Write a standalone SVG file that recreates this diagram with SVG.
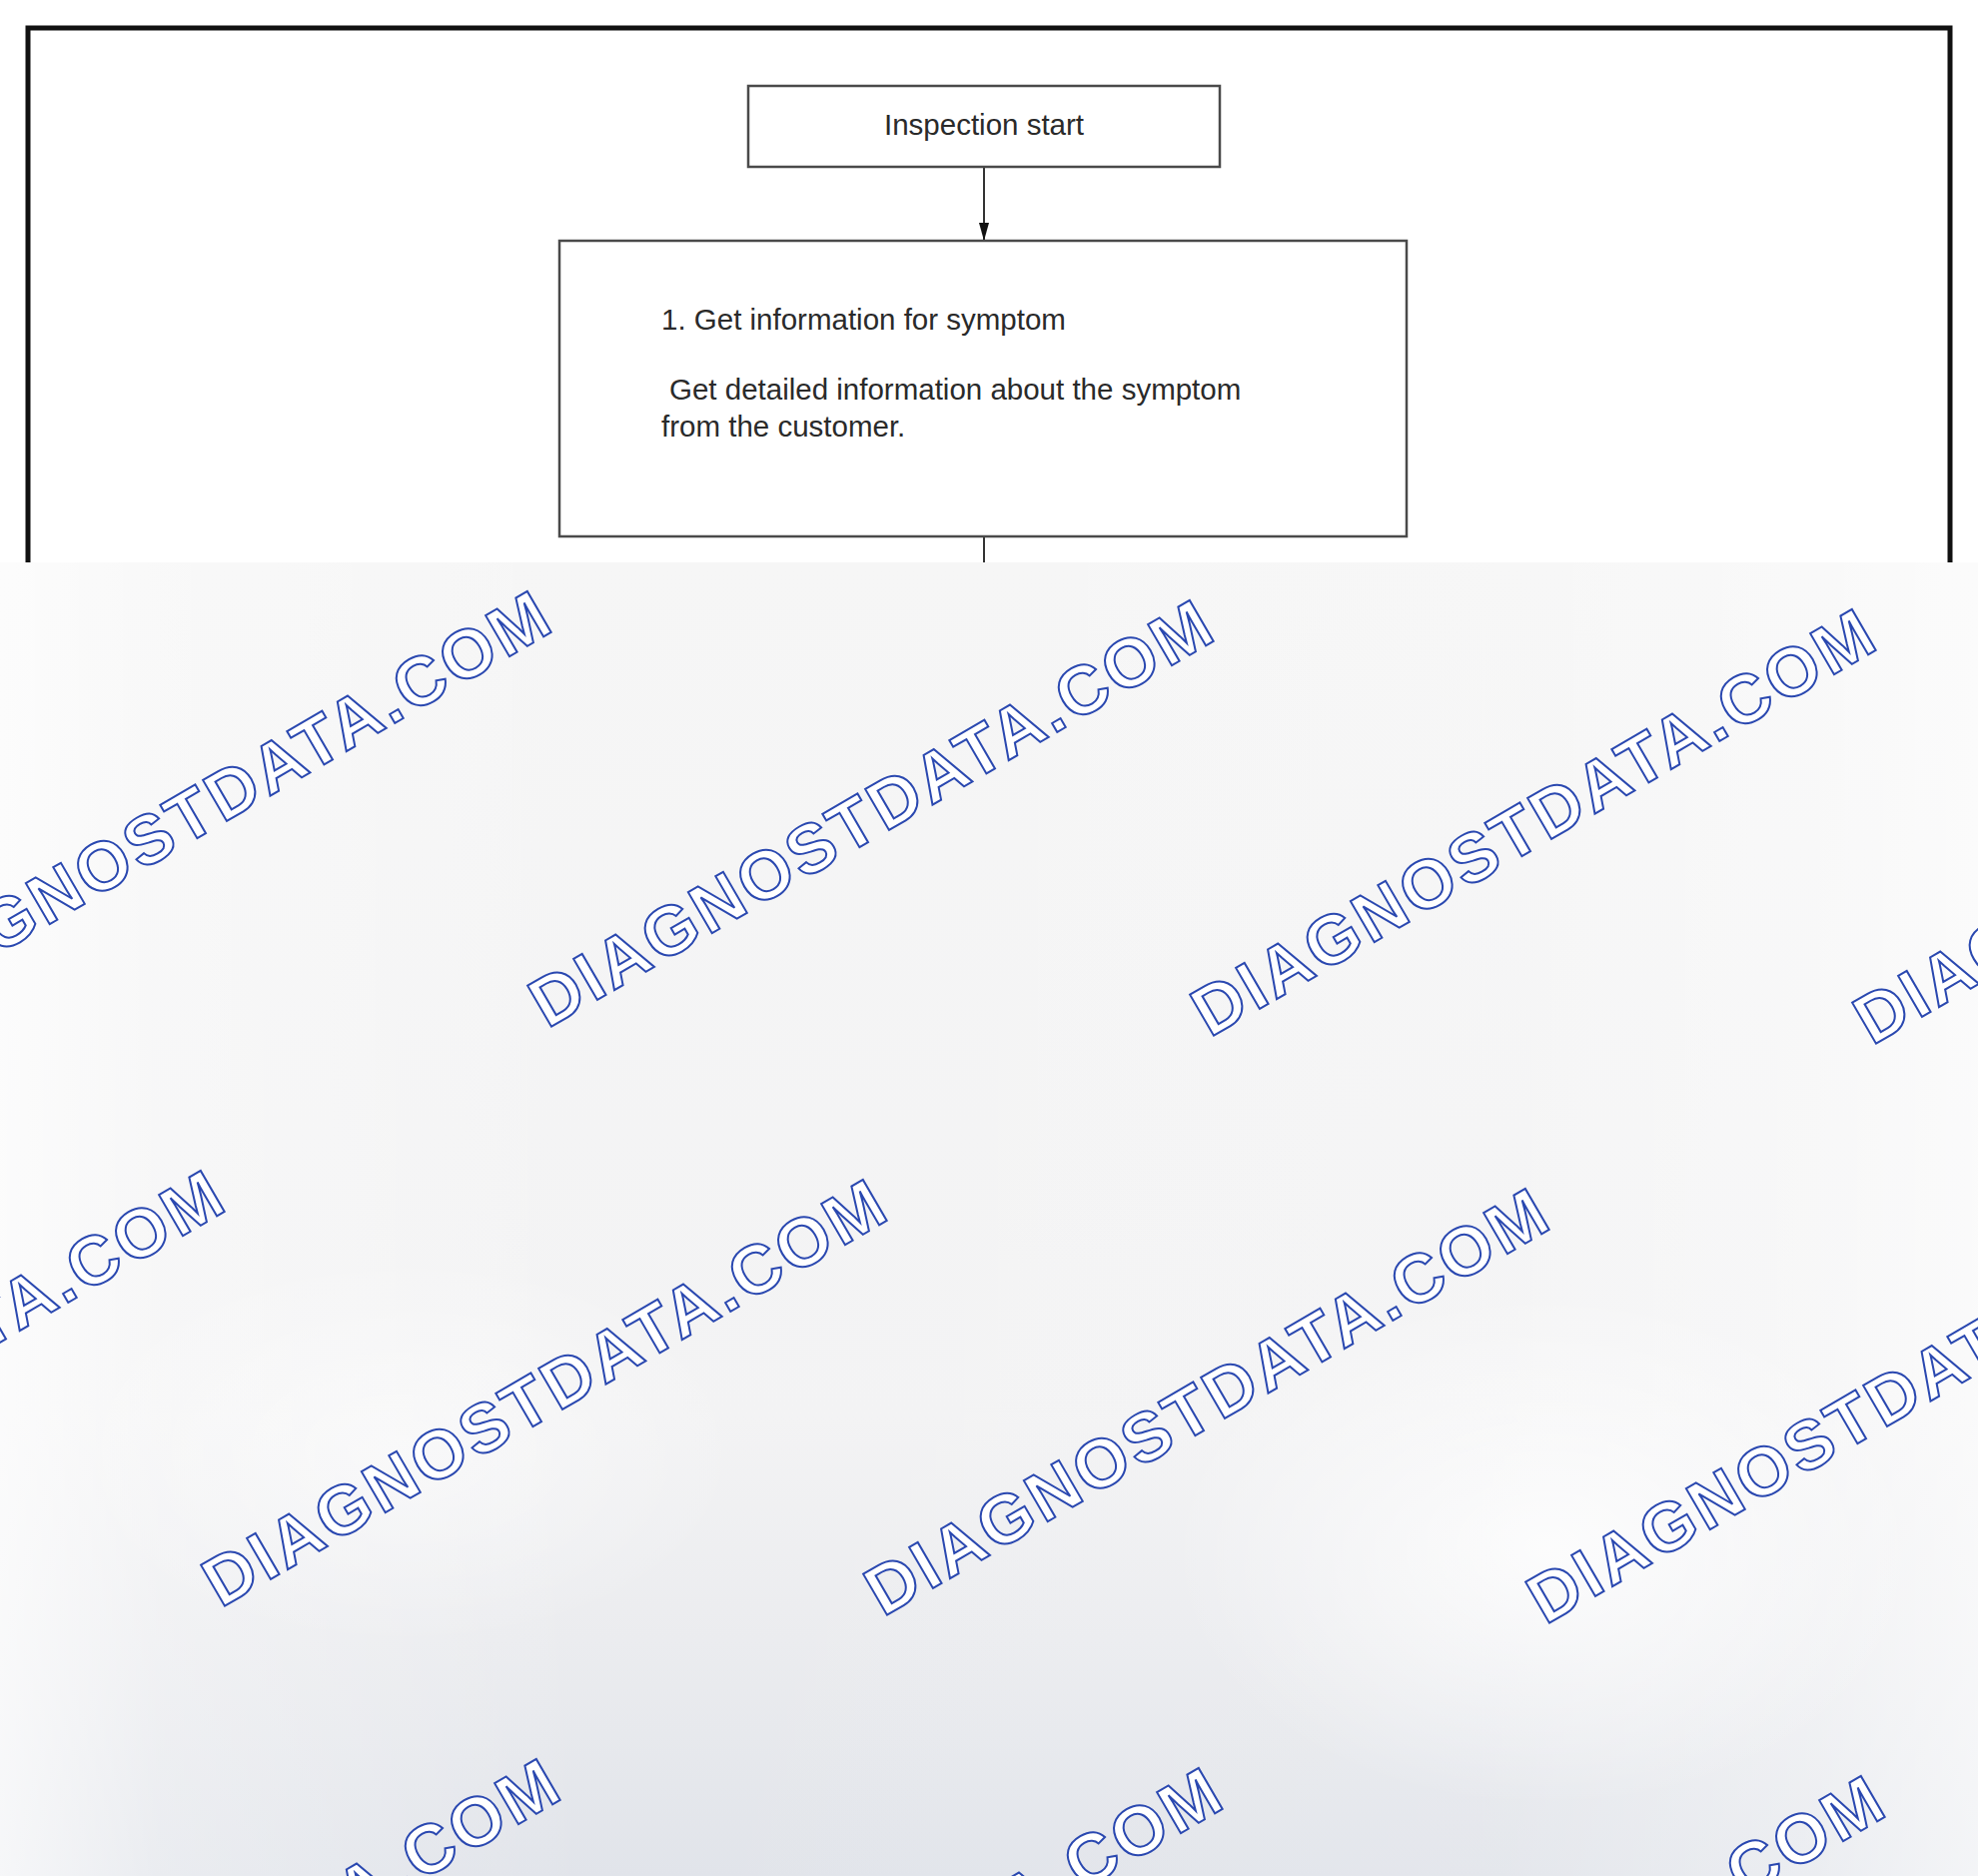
<svg xmlns="http://www.w3.org/2000/svg" width="1980" height="1878" viewBox="0 0 1980 1878">
  <defs>
    <style>
      .box { fill: #ffffff; stroke: #4a4a4a; stroke-width: 2.5; }
      .lbl { font-family: "Liberation Sans", Arial, sans-serif; font-size: 29.5px; fill: #2a2a2a; }
      .conn { stroke: #333333; stroke-width: 2; fill: none; }
      .wm { font-family: "Liberation Sans", Arial, sans-serif; font-weight: bold; font-size: 69px; fill: #ffffff; stroke: #2a48b0; stroke-width: 2; }
    </style>
    <marker id="arrow" viewBox="0 0 18 10" refX="18" refY="5" markerWidth="18" markerHeight="10" markerUnits="userSpaceOnUse" orient="auto">
      <path d="M0,0 L18,5 L0,10 Z" fill="#111111"/>
    </marker>
    <linearGradient id="panelV" x1="0" y1="0" x2="0" y2="1">
      <stop offset="0" stop-color="#f6f6f6"/>
      <stop offset="0.65" stop-color="#f3f3f4"/>
      <stop offset="0.82" stop-color="#ebecef"/>
      <stop offset="1" stop-color="#e1e4ea"/>
    </linearGradient>
    <linearGradient id="panelH" x1="0" y1="0" x2="1" y2="0">
      <stop offset="0" stop-color="#ffffff" stop-opacity="0.7"/>
      <stop offset="0.08" stop-color="#ffffff" stop-opacity="0.3"/>
      <stop offset="0.3" stop-color="#ffffff" stop-opacity="0"/>
      <stop offset="0.75" stop-color="#ffffff" stop-opacity="0.1"/>
      <stop offset="0.92" stop-color="#ffffff" stop-opacity="0.35"/>
      <stop offset="1" stop-color="#ffffff" stop-opacity="0.6"/>
    </linearGradient>
    <radialGradient id="patch" cx="0.5" cy="0.5" r="0.5">
      <stop offset="0" stop-color="#ffffff" stop-opacity="0.8"/>
      <stop offset="1" stop-color="#ffffff" stop-opacity="0"/>
    </radialGradient>
    <clipPath id="panelClip">
      <rect x="0" y="563" width="1980" height="1315"/>
    </clipPath>
  </defs>

  <rect x="0" y="0" width="1980" height="1878" fill="#ffffff"/>

  <g id="frame">
    <rect x="28" y="28" width="1924" height="600" fill="none" stroke="#111111" stroke-width="5"/>
  </g>

  <g id="connectors">
    <line class="conn" x1="985" y1="167" x2="985" y2="241" marker-end="url(#arrow)"/>
    <line class="conn" x1="985" y1="537" x2="985" y2="570" stroke="#555555"/>
  </g>

  <g id="node-start">
    <rect class="box" x="749" y="86" width="472" height="81"/>
    <text class="lbl" x="985" y="135" text-anchor="middle">Inspection start</text>
  </g>

  <g id="node-step1">
    <rect class="box" x="560" y="241" width="848" height="296" stroke="#5a5a5a"/>
    <text class="lbl" x="662" y="330">1. Get information for symptom</text>
    <text class="lbl" x="670" y="400">Get detailed information about the symptom</text>
    <text class="lbl" x="662" y="437">from the customer.</text>
  </g>

  <g id="watermark-panel">
    <rect x="0" y="563" width="1980" height="1315" fill="url(#panelV)"/>
    <rect x="0" y="563" width="1980" height="1315" fill="url(#panelH)"/>
    <ellipse cx="1550" cy="1550" rx="380" ry="260" fill="url(#patch)"/>
    <ellipse cx="400" cy="1450" rx="350" ry="200" fill="url(#patch)" opacity="0.6"/>
    <g clip-path="url(#panelClip)">
      <text class="wm" transform="translate(-115,1021) rotate(-30.2)" textLength="776" lengthAdjust="spacing">DIAGNOSTDATA.COM</text>
      <text class="wm" transform="translate(548,1030) rotate(-30.2)" textLength="776" lengthAdjust="spacing">DIAGNOSTDATA.COM</text>
      <text class="wm" transform="translate(1211,1039) rotate(-30.2)" textLength="776" lengthAdjust="spacing">DIAGNOSTDATA.COM</text>
      <text class="wm" transform="translate(1874,1047) rotate(-30.2)" textLength="776" lengthAdjust="spacing">DIAGNOSTDATA.COM</text>
      <text class="wm" transform="translate(-442,1601) rotate(-30.2)" textLength="776" lengthAdjust="spacing">DIAGNOSTDATA.COM</text>
      <text class="wm" transform="translate(221,1610) rotate(-30.2)" textLength="776" lengthAdjust="spacing">DIAGNOSTDATA.COM</text>
      <text class="wm" transform="translate(884,1619) rotate(-30.2)" textLength="776" lengthAdjust="spacing">DIAGNOSTDATA.COM</text>
      <text class="wm" transform="translate(1547,1627) rotate(-30.2)" textLength="776" lengthAdjust="spacing">DIAGNOSTDATA.COM</text>
      <text class="wm" transform="translate(-106,2190) rotate(-30.2)" textLength="776" lengthAdjust="spacing">DIAGNOSTDATA.COM</text>
      <text class="wm" transform="translate(557,2199) rotate(-30.2)" textLength="776" lengthAdjust="spacing">DIAGNOSTDATA.COM</text>
      <text class="wm" transform="translate(1220,2207) rotate(-30.2)" textLength="776" lengthAdjust="spacing">DIAGNOSTDATA.COM</text>
    </g>
  </g>
</svg>
